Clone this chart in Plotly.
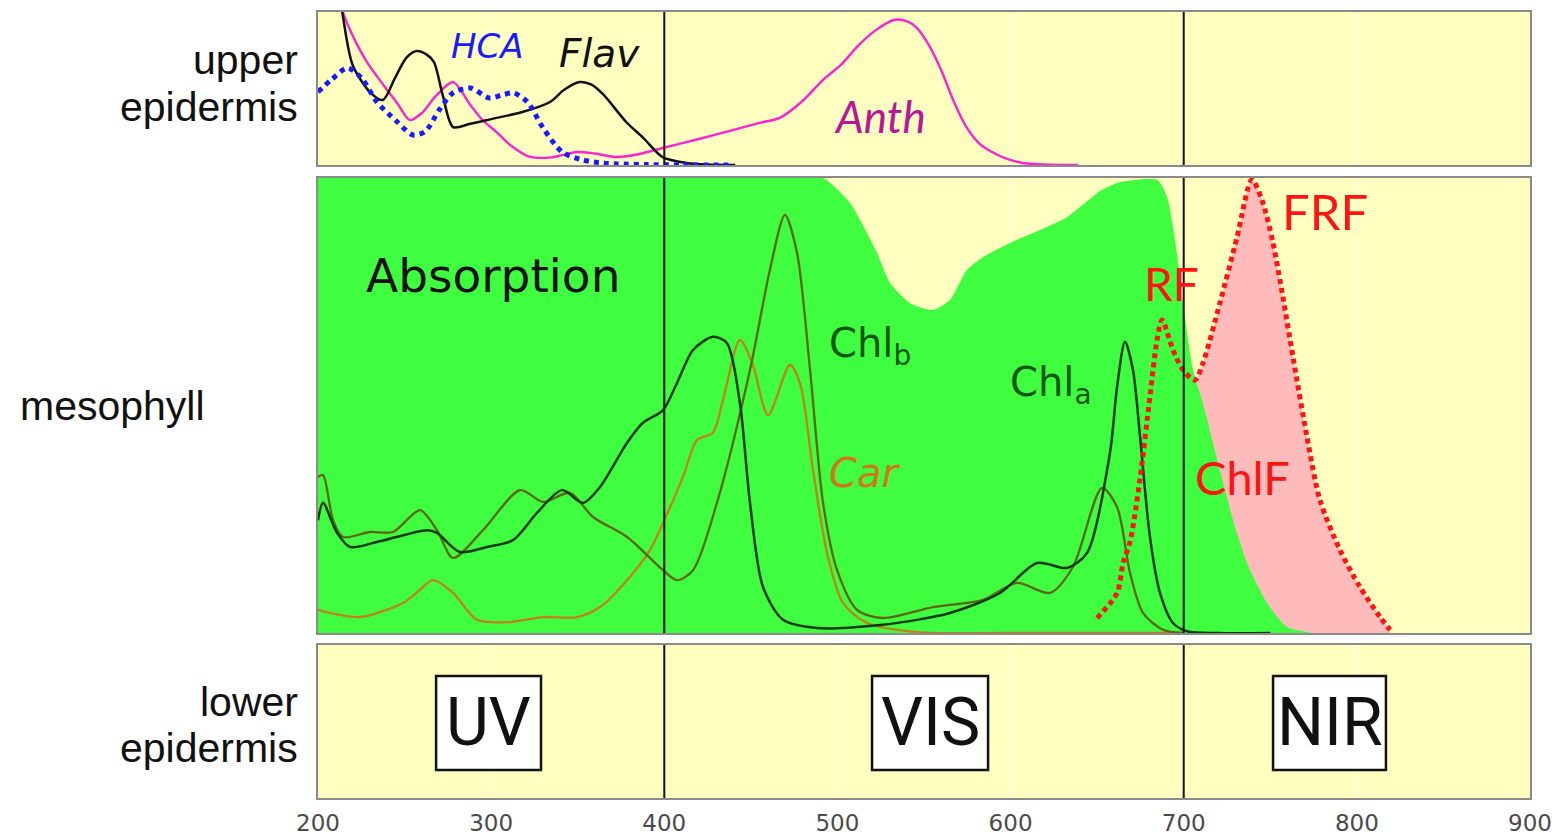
import plotly.graph_objects as go

# ---------------- data ----------------
# Upper epidermis (relative absorbance, 0..1)
HCA_NM = [200, 208, 217, 225, 234, 245, 255, 262, 270, 278, 288, 299, 307, 313,
          321, 330, 341, 353, 365, 373, 390, 410, 440]
HCA = [0.477, 0.56, 0.634, 0.57, 0.412, 0.29, 0.196, 0.22, 0.36, 0.471, 0.503,
       0.438, 0.46, 0.471, 0.412, 0.242, 0.085, 0.033, 0.012, 0.007, 0.003, 0.0, 0.0]

FLAV_NM = [206, 214, 220, 230, 237.5, 244.5, 251, 257, 263, 267, 272, 278, 288,
           300, 318, 334, 342, 351, 358, 365, 378, 388, 399, 413, 425, 441]
FLAV = [1.6, 1.0, 0.654, 0.477, 0.425, 0.569, 0.70, 0.745, 0.72, 0.673, 0.458,
        0.248, 0.27, 0.30, 0.346, 0.412, 0.49, 0.542, 0.525, 0.458, 0.281, 0.176,
        0.052, 0.013, 0.003, 0.0]

ANTH_NM = [206, 214.4, 222, 228.3, 238, 246, 253, 260, 268, 278, 288, 295, 303,
           311, 322, 335, 349.6, 360, 372.7, 385, 399, 420, 440, 455, 467, 480,
           492, 502, 512, 522, 532.7, 540, 546, 553, 560.4, 567, 574.8, 582,
           589.3, 598, 607, 620, 639]
ANTH = [1.6, 1.0, 0.80, 0.673, 0.52, 0.40, 0.294, 0.34, 0.45, 0.542, 0.392,
        0.294, 0.216, 0.131, 0.055, 0.05, 0.085, 0.075, 0.052, 0.07, 0.111, 0.17,
        0.23, 0.275, 0.31, 0.42, 0.56, 0.654, 0.78, 0.88, 0.948, 0.94, 0.895,
        0.78, 0.608, 0.42, 0.242, 0.14, 0.085, 0.04, 0.013, 0.003, 0.0]

# Mesophyll: whole-leaf absorption envelope
ABS_NM = [200, 300, 400, 470, 491.7, 507.3, 522.9, 530.4, 541.9, 555.2, 565,
          574.8, 584.1, 599.7, 613, 632.6, 651.6, 663.2, 684.6, 690.4, 696.1,
          699.6, 705.4, 711.1, 720.9, 728.5, 736.6, 748.1, 759.7, 774.7]
ABS = [1.0, 1.0, 1.0, 1.0, 1.0, 0.945, 0.835, 0.769, 0.725, 0.710, 0.732, 0.798,
       0.826, 0.857, 0.879, 0.914, 0.971, 0.991, 0.996, 0.958, 0.835, 0.725,
       0.578, 0.505, 0.358, 0.248, 0.154, 0.066, 0.013, 0.0]

# Pigment absorption spectra
CHLA_NM = [200, 202.9, 211, 218.5, 234.1, 263, 268.7, 282, 297.6, 312.6, 326.5,
           340.9, 353, 362.9, 378.5, 387.7, 399.3, 407.3, 416.6, 428.1, 436.2,
           443.7, 449.5, 457, 468.6, 488.2, 526.3, 565, 593.9, 615.3, 632.6,
           644.2, 657.4, 661.5, 666.1, 670.7, 674.8, 680.5, 686.3, 693.8, 701.9,
           720, 750]
CHLA = [0.248, 0.286, 0.220, 0.189, 0.200, 0.226, 0.220, 0.178, 0.189, 0.204,
        0.264, 0.314, 0.286, 0.321, 0.418, 0.462, 0.490, 0.549, 0.622, 0.651,
        0.637, 0.505, 0.286, 0.101, 0.029, 0.011, 0.018, 0.044, 0.088, 0.154,
        0.143, 0.176, 0.396, 0.541, 0.640, 0.578, 0.431, 0.211, 0.088, 0.022,
        0.004, 0.0, 0.0]

CHLB_NM = [200, 202.9, 208.7, 214.4, 230, 243.3, 258.9, 268.7, 278, 295.3,
           316.7, 330, 345.5, 358.8, 378.5, 399.3, 407.3, 416.6, 430.4, 449.5,
           461, 469.7, 476.7, 484.2, 491.7, 499.8, 511.3, 526.3, 555.2, 584.1,
           603.7, 622.8, 636, 652.8, 661.5, 669, 676.5, 688, 699.6]
CHLB = [0.343, 0.347, 0.248, 0.211, 0.222, 0.222, 0.270, 0.226, 0.165, 0.226,
        0.314, 0.288, 0.308, 0.255, 0.211, 0.138, 0.116, 0.138, 0.286, 0.578,
        0.798, 0.919, 0.835, 0.578, 0.286, 0.138, 0.051, 0.033, 0.057, 0.073,
        0.110, 0.088, 0.145, 0.319, 0.277, 0.132, 0.044, 0.007, 0.0]

CAR_NM = [200, 206.9, 224.3, 249.1, 258.9, 266.4, 278, 291.8, 310.9, 330,
          349.6, 362.9, 378.5, 391.7, 399.3, 410.8, 418.9, 428.1, 433.9, 443.7,
          451.2, 459.9, 472.6, 478.4, 485.9, 494, 503.2, 517.1, 545.9, 600, 700]
CAR = [0.051, 0.044, 0.035, 0.066, 0.095, 0.116, 0.088, 0.029, 0.024, 0.035,
       0.035, 0.057, 0.116, 0.182, 0.242, 0.343, 0.424, 0.440, 0.512, 0.644,
       0.589, 0.479, 0.589, 0.549, 0.358, 0.176, 0.066, 0.022, 0.002, 0.0, 0.0]

# Chlorophyll fluorescence emission (red + far-red bands)
CHLF_NM = [650, 661.5, 665, 669, 674.8, 680.6, 684.6, 687.5, 693.8, 699.6,
           706.5, 711.1, 720.9, 730.8, 739.4, 745.2, 751.6, 757.3, 763.1, 771.2,
           778.7, 790.3, 801.8, 813.4, 819.2]
CHLF = [0.033, 0.088, 0.154, 0.20, 0.34, 0.523, 0.644, 0.688, 0.622, 0.578,
        0.556, 0.593, 0.725, 0.870, 0.996, 0.952, 0.857, 0.738, 0.607, 0.431,
        0.292, 0.182, 0.101, 0.035, 0.007]

TICKS = [200, 300, 400, 500, 600, 700, 800, 900]
BOUNDARIES = [400, 700]
REGIONS = ["UV", "VIS", "NIR"]

# ---------------- styles ----------------
BG = "#ffffc0"
GREEN = "#3ffd3f"
PINK = "#ffbaba"
FRAME = "#8a8a8a"

fig = go.Figure()


def curve(x, y, axis, color, width=2.5, dash=None, smooth=0.8):
    fig.add_trace(go.Scatter(
        x=x, y=y, xaxis="x" + axis, yaxis="y" + axis, mode="lines",
        line=dict(color=color, width=width, dash=dash, shape="spline",
                  smoothing=smooth),
        hoverinfo="skip", showlegend=False))


# upper epidermis
curve(ANTH_NM, ANTH, "", "#ff22d0", width=2.4)
curve(FLAV_NM, FLAV, "", "#111111", width=2.5)
curve(HCA_NM, HCA, "", "#1a1aff", width=5, dash="5px,5px")

# mesophyll: fluorescence area, absorption envelope, pigments
fig.add_trace(go.Scatter(
    x=CHLF_NM, y=CHLF, xaxis="x2", yaxis="y2", mode="lines", fill="tozeroy",
    fillcolor=PINK, line=dict(width=0, shape="spline", smoothing=0.8),
    hoverinfo="skip", showlegend=False))
fig.add_trace(go.Scatter(
    x=ABS_NM, y=ABS, xaxis="x2", yaxis="y2", mode="lines", fill="tozeroy",
    fillcolor=GREEN, line=dict(width=0, shape="spline", smoothing=0.6),
    hoverinfo="skip", showlegend=False))
curve(CAR_NM, CAR, "2", "#c2801c", width=2.3)
curve(CHLB_NM, CHLB, "2", "#5e6614", width=2.3)
curve(CHLA_NM, CHLA, "2", "#0c3a0c", width=2.5)
curve(CHLF_NM, CHLF, "2", "#ff1414", width=5, dash="5px,4px")

# lower epidermis: an empty panel carrying the spectral regions
fig.add_trace(go.Scatter(x=[200, 900], y=[None, None], xaxis="x3", yaxis="y3",
                         mode="lines", hoverinfo="skip", showlegend=False))

# ---------------- axes ----------------
H_TOT = 786.0


def yd(top_px, bot_px):
    return [(798 - bot_px) / H_TOT, (798 - top_px) / H_TOT]


xcommon = dict(range=[200, 900], tickvals=TICKS, showgrid=True,
               gridcolor="rgba(255,255,255,0.6)", gridwidth=1, zeroline=False,
               showline=True, mirror=True, linecolor=FRAME, linewidth=2,
               ticks="", fixedrange=True, automargin=False)
ycommon = dict(range=[0, 1], showgrid=False, zeroline=False, showticklabels=False,
               showline=True, mirror=True, linecolor=FRAME, linewidth=2,
               ticks="", fixedrange=True, automargin=False)

fig.update_layout(
    xaxis=dict(xcommon, anchor="y", showticklabels=False),
    xaxis2=dict(xcommon, anchor="y2", showticklabels=False),
    xaxis3=dict(xcommon, anchor="y3", showticklabels=True, ticklabelstandoff=3,
                tickfont=dict(family="DejaVu Sans", size=23, color="#4a4a4a")),
    yaxis=dict(ycommon, domain=yd(12, 165), anchor="x"),
    yaxis2=dict(ycommon, domain=yd(178, 633), anchor="x2"),
    yaxis3=dict(ycommon, domain=yd(645, 798), anchor="x3"),
)

# ---------------- shapes ----------------
shapes = []
for ax in ["", "2", "3"]:
    for b in BOUNDARIES:
        shapes.append(dict(type="line", xref="x" + ax, yref=f"y{ax} domain",
                           x0=b, x1=b, y0=0, y1=1,
                           line=dict(color="#111111", width=2)))

region_boxes = [(268.2, 328.8), (520.0, 587.0), (751.6, 816.8)]
for x0, x1 in region_boxes:
    shapes.append(dict(type="rect", xref="x3", yref="y3 domain",
                       x0=x0, x1=x1, y0=0.183, y1=0.797, fillcolor="white",
                       line=dict(color="#111111", width=2.5), layer="above"))

# ---------------- annotations ----------------
ann = []


def label(text, x, y, axis, size, color, family, xanchor="center", italic=False):
    ann.append(dict(text=f"<i>{text}</i>" if italic else text, x=x, y=y,
                    xref="x" + axis, yref=f"y{axis} domain", xanchor=xanchor,
                    yanchor="middle", showarrow=False,
                    font=dict(size=size, color=color, family=family)))


label("HCA", 297.9, 0.781, "", 34, "#1a1aff", "DejaVu Sans", italic=True)
label("Flav", 362.3, 0.732, "", 39, "#111111", "DejaVu Sans", italic=True)
label("Anth", 524.6, 0.320, "", 44, "#b8169a", "Lato", italic=True)

label("Absorption", 301.1, 0.786, "2", 47, "#111111", "DejaVu Sans")
label("Chl<sub>b</sub>", 494.0, 0.630, "2", 40, "#0b560b", "DejaVu Sans",
      xanchor="left")
label("Chl<sub>a</sub>", 598.5, 0.545, "2", 40, "#0b560b", "DejaVu Sans",
      xanchor="left")
label("Car", 515.9, 0.352, "2", 40, "#d07818", "DejaVu Sans", italic=True)
label("RF", 692.7, 0.769, "2", 46, "#ff1414", "Lato")
label("FRF", 781.6, 0.927, "2", 49, "#ff1414", "Lato")
label("ChlF", 733.7, 0.343, "2", 47, "#ff1414", "Lato")

for name, xc in zip(REGIONS, [298.5, 553.5, 784.2]):
    label(name, xc, 0.493, "3", 66, "#111111", "Roboto")


def side(text, px_x, px_y, xanchor):
    ann.append(dict(text=text, xref="paper", yref="paper",
                    x=(px_x - 318) / 1212.0, y=(798 - px_y) / H_TOT,
                    xanchor=xanchor, yanchor="middle", showarrow=False,
                    font=dict(size=41, color="#111111",
                              family="Liberation Sans, Arial")))


side("upper", 300, 60, "right")
side("epidermis", 300, 107, "right")
side("mesophyll", 18, 406, "left")
side("lower", 300, 702, "right")
side("epidermis", 300, 748, "right")

fig.update_layout(
    width=1560, height=836,
    margin=dict(l=318, r=30, t=12, b=38),
    paper_bgcolor="white", plot_bgcolor=BG,
    shapes=shapes, annotations=ann, showlegend=False,
)

fig.write_html("out.html")
